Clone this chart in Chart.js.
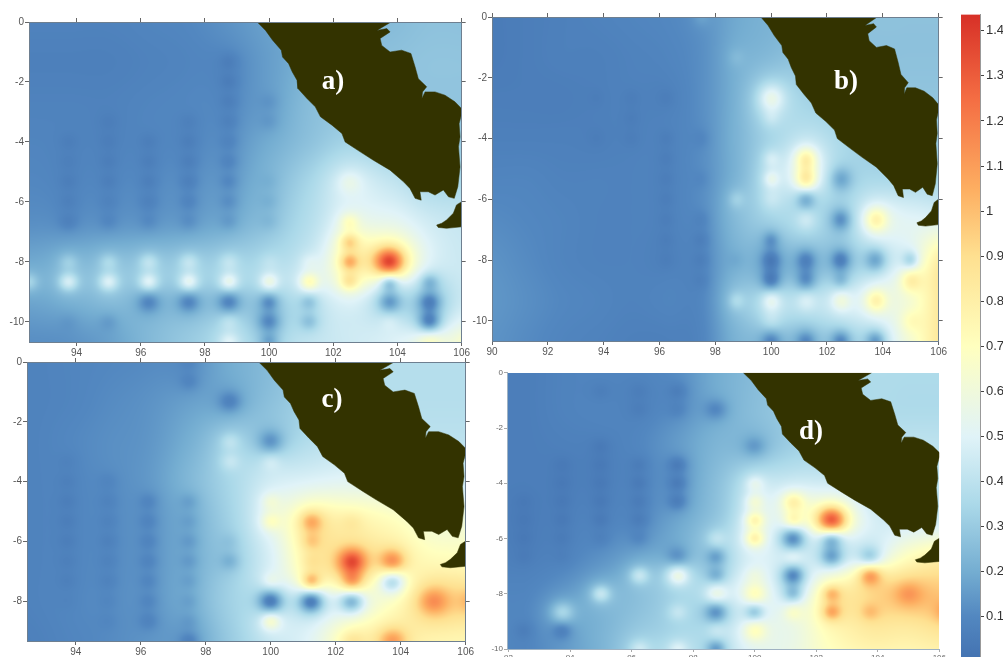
<!DOCTYPE html>
<html><head><meta charset="utf-8">
<script src="https://cdn.jsdelivr.net/npm/chart.js@4"></script>
<style>
html,body{margin:0;padding:0;background:#fff;width:1003px;height:657px;overflow:hidden}
canvas{position:absolute}
.tag{position:absolute;font:bold 27px "Liberation Serif",serif;color:#fff;line-height:30px;transform:translate(-50%,-50%)}
</style></head><body>
<script>
// ---------- DATA ----------
const lonNodes=[90,91.25,92.5,93.75,95,96.25,97.5,98.75,100,101.25,102.5,103.75,105,106.25];
const latNodes=[0,-1.333,-2.667,-4,-5.333,-6.667,-8,-9.333,-10.667];
const xTicksAC=[94,96,98,100,102,104,106];
const xTicksB=[90,92,94,96,98,100,102,104,106];
const xTicksD=[92,94,96,98,100,102,104,106];
const yTicksAB=[0,-2,-4,-6,-8,-10];
const yTicksC=[0,-2,-4,-6,-8];
const cbTicks=[0.1,0.2,0.3,0.4,0.5,0.6,0.7,0.8,0.9,1,1.1,1.2,1.3,1.4];

const baseA=[
[.08,.08,.08,.09,.10,.13,.17,.20,.24,.25,.27,.27],
[.07,.07,.07,.08,.09,.11,.16,.22,.26,.27,.28,.28],
[.08,.08,.08,.09,.10,.12,.17,.25,.28,.28,.28,.28],
[.09,.09,.09,.10,.11,.14,.20,.27,.33,.30,.30,.30],
[.10,.10,.11,.12,.14,.17,.24,.34,.45,.42,.35,.35],
[.12,.13,.14,.15,.17,.21,.28,.38,.50,.52,.45,.42],
[.18,.20,.23,.25,.27,.30,.34,.42,.62,.62,.48,.44],
[.17,.20,.24,.26,.28,.31,.34,.42,.48,.42,.42,.46],
[.12,.13,.17,.24,.30,.35,.38,.42,.45,.48,.55,.60]];
const spotsA=[
[93.75,-4,.05],[93.75,-4.667,.06],[93.75,-5.333,.05],[93.75,-6,.06],[93.75,-6.667,.05],
[95,-3.333,.05],[95,-4,.05],[95,-4.667,.05],[95,-5.333,.05],[95,-6,.07],[95,-6.667,.08],
[96.25,-4,.05],[96.25,-4.667,.05],[96.25,-5.333,.05],[96.25,-6,.06],[96.25,-6.667,.09],
[97.5,-3.333,.06],[97.5,-4,.05],[97.5,-4.667,.05],[97.5,-5.333,.05],[97.5,-6,.07],[97.5,-6.667,.10],
[98.75,-1.333,.04],[98.75,-2,.04],[98.75,-2.667,.05],[98.75,-3.333,.06],[98.75,-4,.07],[98.75,-4.667,.07],[98.75,-5.333,.08],[98.75,-6,.10],[98.75,-6.667,.13],
[100,-2.667,.12],[100,-3.333,.13],[100,-5.333,.20],[100,-6,.20],[100,-6.667,.22],
[93.75,-8,.30],[95,-8,.34],[96.25,-8,.39],[97.5,-8,.40],[98.75,-8,.40],[100,-8,.39],[101.25,-8,.49],
[92.5,-8.667,.34],[93.75,-8.667,.46],[95,-8.667,.48],[96.25,-8.667,.51],[97.5,-8.667,.54],[98.75,-8.667,.56],[100,-8.667,.58],[101.25,-8.667,.72],[102.5,-8.667,.82],
[102.5,-7.333,.88],[102.5,-8,.98],[102.5,-6.667,.68],[102.5,-5.333,.55,1.3],
[103.75,-8,1.40,1.6],[103.75,-8.667,.18],[103.75,-9.333,.15,1.2],[105,-8.667,.25],[105,-9.333,.12,1.2],[105,-10,.10,1.2],[105,-10.667,.72,1.3],[106.25,-10.667,.72],
[96.25,-9.333,.08,1.2],[97.5,-9.333,.08,1.2],[98.75,-9.333,.07,1.2],[100,-9.333,.13],[101.25,-9.333,.27],
[93.75,-10,.13],[95,-10,.13],[98.75,-10,.42],[100,-10,.13,1.2],[101.25,-10,.28],[102.5,-10,.45],[103.75,-10,.50],
[98.75,-10.667,.50],[100,-10.667,.20]];

const baseB=[
[.05,.06,.07,.08,.09,.10,.12,.19,.22,.24,.26,.27,.27,.27],
[.05,.06,.07,.07,.08,.09,.12,.20,.24,.28,.28,.27,.27,.27],
[.06,.06,.06,.07,.08,.08,.12,.21,.30,.32,.30,.28,.28,.28],
[.07,.07,.07,.07,.08,.09,.12,.22,.32,.38,.35,.30,.30,.30],
[.09,.09,.08,.08,.08,.09,.12,.22,.35,.42,.38,.35,.35,.35],
[.11,.10,.09,.08,.08,.09,.12,.24,.33,.36,.36,.45,.50,.50],
[.13,.11,.09,.08,.08,.08,.11,.22,.28,.30,.34,.44,.55,.85],
[.14,.12,.10,.09,.08,.09,.10,.25,.35,.38,.42,.48,.58,.88],
[.13,.11,.09,.08,.07,.07,.09,.22,.28,.30,.38,.45,.62,.88]];
const spotsB=[
[100,-2.667,.55,1.6],[100,-3.333,.38],[100,-4.667,.45],[100,-5.333,.52],[100,-6,.42,1.2],
[101.25,-4.667,.75,1.3],[101.25,-5.333,.80,1.3],[101.25,-6,.15,1.2],[101.25,-6.667,.47,1.2],
[102.5,-5.333,.18,1.3],[102.5,-6.667,.12,1.2],[103.75,-6.667,.78,1.4],
[100,-7.333,.15],[100,-8,.08,1.2],[100,-8.667,.06,1.2],[100,-9.333,.55,1.2],[100,-10,.40,1.2],[100,-10.667,.08,1.2],
[101.25,-8,.10,1.2],[101.25,-8.667,.13,1.2],[101.25,-9.333,.50,1.2],[101.25,-10.667,.10,1.2],
[102.5,-8,.08,1.2],[102.5,-8.667,.25],[102.5,-9.333,.60,1.2],[102.5,-10.667,.10,1.2],
[103.75,-8,.18,1.3],[103.75,-9.333,.78,1.3],[103.75,-10.667,.15,1.2],
[105,-8,.32],[105,-8.667,.82,1.3],[105,-10,.72,1.3],
[98.75,-9.333,.36],[98.75,-8,.18],[98.75,-6,.32],[98.75,-1.333,.24],
[97.5,-7.333,.05],[97.5,-8,.05],[97.5,-8.667,.06],[97.5,-6.667,.07],[97.5,-4,.08],[97.5,-5.333,.09],[97.5,0,.17],
[96.25,-6.667,.05],[96.25,-7.333,.05],[96.25,-8,.05],[96.25,-6,.05],[96.25,-5.333,.05],[96.25,-4.667,.05],[96.25,-4,.05],[96.25,-2.667,.05],
[95,-2.667,.05],[95,-3.333,.05],[95,-4,.05],[93.75,-2.667,.05],[93.75,-4,.05]];

const baseC=[
[.08,.09,.10,.11,.13,.20,.25,.32,.38,.38,.38,.38],
[.08,.09,.11,.13,.17,.22,.27,.33,.38,.38,.38,.38],
[.08,.10,.12,.14,.21,.30,.34,.38,.42,.40,.40,.40],
[.08,.10,.12,.15,.24,.34,.45,.50,.52,.50,.45,.45],
[.08,.10,.12,.15,.22,.33,.50,.74,.74,.70,.60,.60],
[.08,.10,.12,.15,.22,.32,.48,.74,.74,.72,.72,.72],
[.08,.10,.12,.15,.22,.33,.48,.56,.62,.72,.85,.85],
[.07,.09,.11,.14,.18,.30,.42,.52,.72,.72,.75,.75]];
const spotsC=[
[97.5,0,.08],[97.5,-.667,.07],[98.75,-1.333,.08,1.2],[100,-2.667,.13,1.3],[98.75,-2.667,.40],[98.75,-3.333,.42],[100,-3.333,.48],
[100,-4.667,.60],[100,-5.333,.68],[100,-7.333,.60],[100,-8,.04,1.3],[100,-8.667,.70],[101.25,-8,.05,1.3],[102.5,-8,.20,1.3],[103.75,-7.333,.30,1.4],
[101.25,-5.333,1.05,1.2],[101.25,-6,.92],[101.25,-6.667,.82],[101.25,-7.333,1.05],[102.5,-5.333,.82,1.2],[102.5,-6.667,1.32,1.5],[102.5,-7.333,1.05,1.2],
[103.75,-6.667,1.18,1.4],[105,-8,1.15,1.6],[106.25,-8,1.05,1.4],[103.75,-9.333,1.10,1.5],[102.5,-9.333,.85,1.3],
[93.75,-3.333,.07],[93.75,-4,.06],[93.75,-4.667,.05],[93.75,-5.333,.05],[93.75,-6,.05],[93.75,-6.667,.06],[93.75,-7.333,.06],[93.75,-8,.08],
[95,-4,.08],[95,-4.667,.07],[95,-5.333,.07],[95,-6,.06],[95,-6.667,.07],[95,-7.333,.07],[95,-8,.09],[95,-8.667,.09],
[96.25,-4.667,.07],[96.25,-5.333,.07],[96.25,-6,.07],[96.25,-6.667,.07],[96.25,-7.333,.08],[96.25,-8,.08],[96.25,-8.667,.06],
[97.5,-4.667,.14],[97.5,-5.333,.15],[97.5,-6,.13],[97.5,-6.667,.13],[97.5,-7.333,.15],[97.5,-8,.15],[97.5,-8.667,.14],[97.5,-9.333,.08],
[98.75,-6,.26],[98.75,-6.667,.22]];

const baseD=[
[.06,.08,.09,.09,.12,.20,.25,.30,.32,.36,.36,.36],
[.06,.08,.09,.09,.13,.22,.26,.30,.33,.36,.36,.36],
[.06,.07,.08,.10,.16,.23,.27,.32,.35,.38,.40,.40],
[.06,.07,.08,.11,.17,.26,.38,.42,.42,.40,.40,.40],
[.06,.08,.10,.12,.19,.28,.42,.50,.50,.45,.45,.45],
[.07,.09,.13,.18,.24,.34,.47,.52,.52,.52,.70,.80],
[.09,.13,.19,.25,.30,.38,.50,.52,.72,.85,.95,.95],
[.10,.16,.22,.29,.33,.40,.50,.55,.72,.82,.82,.85],
[.08,.14,.22,.33,.38,.42,.50,.58,.68,.72,.72,.75]];
const spotsD=[
[101.25,-4.667,.75,1.2],[101.25,-5.333,.72],[102.5,-5.333,1.35,1.6],[101.25,-6,.08,1.3],[102.5,-6,.12,1.2],[102.5,-6.667,.20,1.2],[103.75,-6.667,.28,1.2],
[101.25,-6.667,.62],[101.25,-7.333,.12,1.2],[101.25,-8,.30],[101.25,-8.667,.68],[103.75,-7.333,1.12,1.2],[102.5,-8,1.00],[102.5,-8.667,1.05],[103.75,-8.667,1.00],[105,-8,1.12,1.4],[106.25,-8.667,1.10,1.3],
[100,-4,.52],[100,-4.667,.58],[100,-5.333,.72],[100,-6,.76],[100,-7.333,.56],[100,-8,.72,1.2],[100,-8.667,.25],[100,-9.333,.72,1.2],
[98.75,-1.333,.10,1.2],[100,-2.667,.15,1.2],[98.75,-6,.42],[98.75,-6.667,.17],[98.75,-7.333,.20],[98.75,-8,.60,1.2],[98.75,-8.667,.10,1.2],[98.75,-9.333,.48],[98.75,-10,.15],
[97.5,-6.667,.10,1.2],[97.5,-7.333,.58,1.2],[97.5,-8.667,.42],[97.5,-10,.50],[96.25,-7.333,.42],[96.25,-10,.45],[95,-8,.42],[93.75,-8.667,.35,1.2],[92.5,-9.333,.04],[93.75,-9.333,.05],
[97.5,-.667,.04],[97.5,-1.333,.07],[97.5,-3.333,.06],[97.5,-4,.07],[97.5,-4.667,.07],
[96.25,-.667,.05],[96.25,-1.333,.05],[96.25,-3.333,.04],[96.25,-4,.03],[96.25,-4.667,.04],[96.25,-5.333,.04],[96.25,-6,.08],
[95,-.667,.05],[95,-2.667,.03],[95,-3.333,.03],[95,-4,.03],[95,-4.667,.03],[95,-5.333,.03],[95,-6,.06],
[93.75,-3.333,.03],[93.75,-4,.03],[93.75,-4.667,.03],[93.75,-5.333,.03],[93.75,-6,.04],[93.75,-6.667,.06],
[92.5,-4.667,.03],[92.5,-5.333,.03],[92.5,-6,.03],[92.5,-6.667,.04]];

const sumatra=[[99.63,0],[99.89,-.28],[100.11,-.61],[100.38,-.94],[100.42,-1.17],[100.61,-1.39],[100.72,-1.66],[100.87,-1.94],[100.9,-2.22],[101.18,-2.55],[101.44,-2.83],[101.6,-3.16],[101.96,-3.44],[102.27,-3.72],[102.37,-4],[102.84,-4.33],[103.25,-4.61],[103.77,-4.94],[104.19,-5.33],[104.39,-5.55],[104.55,-5.88],[104.74,-5.94],[104.7,-5.66],[104.96,-5.66],[105.17,-5.77],[105.43,-5.6],[105.59,-5.83],[105.77,-5.88],[105.88,-5.49],[105.95,-4.83],[105.9,-4.16],[105.95,-3.83],[105.92,-3.39],[106,-3.05],[106,-2.89],[105.79,-2.66],[105.48,-2.44],[105.17,-2.33],[104.86,-2.33],[104.76,-2.55],[104.78,-2.33],[104.91,-2.16],[104.65,-1.89],[104.55,-1.5],[104.42,-1.05],[104.13,-.94],[103.77,-1],[103.51,-.78],[103.46,-.55],[103.77,-.33],[103.67,-.22],[103.36,-.28],[103.8,0]];
const java=[[106,-5.99],[105.84,-6.1],[105.74,-6.38],[105.53,-6.6],[105.38,-6.71],[105.22,-6.77],[105.27,-6.85],[105.53,-6.88],[106,-6.83]];

const colorStops=[[0.011,[68,115,178]],[0.1,[82,135,192]],[0.2,[116,173,209]],[0.35,[171,217,233]],[0.5,[224,243,248]],[0.7,[255,255,191]],[0.9,[254,224,144]],[1.05,[253,174,97]],[1.25,[244,109,67]],[1.436,[215,48,39]]];
const landColor='#333300';

// ---------- RENDERING ----------
function colorOf(v){
  const s=colorStops;
  if(v<=s[0][0])return s[0][1];
  for(let i=1;i<s.length;i++){
    if(v<=s[i][0]){const t=(v-s[i-1][0])/(s[i][0]-s[i-1][0]);
      return s[i-1][1].map((c,k)=>c+(s[i][1][k]-c)*t);}
  }
  return s[s.length-1][1];
}
function cr(a,b,c,d,t){return .5*(2*b+(c-a)*t+(2*a-5*b+4*c-d)*t*t+(3*b-a-3*c+d)*t*t*t);}
function baseAt(base,lons,lon,lat){
  const fx=Math.max(0,Math.min(base[0].length-1,(lon-lons[0])/1.25));
  const fy=Math.max(0,Math.min(base.length-1,-lat/(4/3)));
  const ix=Math.floor(fx),iy=Math.floor(fy),tx=fx-ix,ty=fy-iy;
  const R=j=>base[Math.max(0,Math.min(base.length-1,j))];
  const row=j=>{const r=R(j),g=i=>r[Math.max(0,Math.min(r.length-1,i))];
    return cr(g(ix-1),g(ix),g(ix+1),g(ix+2),tx);};
  return cr(row(iy-1),row(iy),row(iy+1),row(iy+2),ty);
}
const heatPlugin={id:'heat',beforeDatasetsDraw(chart){
  const c=chart.options.plugins.heat, a=chart.chartArea, sx=chart.scales.x, sy=chart.scales.y, ctx=chart.ctx;
  const L=Math.round(a.left),T=Math.round(a.top),W=Math.round(a.right)-L,H=Math.round(a.bottom)-T;
  const sig=c.sigma||0.2;
  const spots=chart.data.datasets[0].data.map(p=>{
    let d=p.v-baseAt(c.base,c.lons,p.x,p.y);
    if(d<0&&d>-.1)d*=.68;
    const w=sig*(p.w||1);
    return {x:p.x,y:p.y,d,w};
  });
  const img=ctx.createImageData(W,H);
  for(let j=0;j<H;j++){
    const lat=sy.getValueForPixel(T+j+.5);
    for(let i=0;i<W;i++){
      const lon=sx.getValueForPixel(L+i+.5);
      let v=baseAt(c.base,c.lons,lon,lat);
      for(const s of spots){
        const dx=(lon-s.x)/s.w,dy=(lat-s.y)/s.w,r=dx*dx+dy*dy;
        if(r<40)v+=s.d*(.72*Math.exp(-r/2)+.28*Math.exp(-r/8));
      }
      const col=colorOf(v),o=(j*W+i)*4;
      img.data[o]=col[0];img.data[o+1]=col[1];img.data[o+2]=col[2];img.data[o+3]=255;
    }
  }
  ctx.putImageData(img,L,T);
  ctx.save();ctx.beginPath();ctx.rect(a.left,a.top,a.right-a.left,a.bottom-a.top);ctx.clip();
  ctx.fillStyle=landColor;
  [1,2].forEach(k=>{
    const m=chart.getDatasetMeta(k).data;ctx.beginPath();
    m.forEach((p,i)=>i?ctx.lineTo(p.x,p.y):ctx.moveTo(p.x,p.y));
    ctx.closePath();ctx.fill();
  });
  ctx.restore();
}};

function tickScale(axis,pos,min,max,ticks,size,o){
  return {type:'linear',axis,position:pos,min,max,
    afterBuildTicks:s=>{s.ticks=ticks.map(v=>({value:v}));},
    afterFit:s=>{if(axis==='x')s.height=size;else s.width=size;},
    ticks:{display:!!o.labels,autoSkip:false,maxRotation:0,color:o.textColor,padding:o.pad,
      font:{family:'"Liberation Sans",Arial,sans-serif',size:o.fontSize},callback:v=>String(v)},
    grid:{drawOnChartArea:false,drawTicks:true,tickLength:o.tick,color:o.tickColor,z:1},
    border:{display:true,color:o.borderColor,z:1}};
}
function panel(p){
  const M={l:30,r:8,t:7,b:18};
  const cv=document.createElement('canvas');
  cv.width=p.right-p.left+M.l+M.r;cv.height=p.bottom-p.top+M.t+M.b;
  cv.style.left=(p.left-M.l)+'px';cv.style.top=(p.top-M.t)+'px';
  if(p.blur)cv.style.filter='blur('+p.blur+'px)';
  document.body.appendChild(cv);
  const st={labels:true,textColor:p.textColor||'#555',pad:p.pad??1,fontSize:p.fontSize||10,tick:p.tick||4,tickColor:p.tickColor||'#666',borderColor:p.borderColor||'#6e7f90'};
  const scales={
    x:tickScale('x','bottom',p.xMin,106,p.xTicks,M.b,st),
    y:tickScale('y','left',p.yMin,0,p.yTicks,M.l,st)};
  if(p.frame){
    scales.x2=tickScale('x','top',p.xMin,106,p.xTicks,M.t,{...st,labels:false});
    scales.y2=tickScale('y','right',p.yMin,0,p.yTicks,M.r,{...st,labels:false});
  }
  new Chart(cv,{type:'scatter',plugins:[heatPlugin],
    data:{datasets:[
      {label:'stations',data:p.spots.map(s=>({x:s[0],y:s[1],v:s[2],w:s[3]})),pointRadius:0,showLine:false},
      {label:'Sumatra',data:sumatra.map(s=>({x:s[0],y:s[1]})),pointRadius:0,showLine:true,borderColor:landColor,borderWidth:.5},
      {label:'Java',data:java.map(s=>({x:s[0],y:s[1]})),pointRadius:0,showLine:true,borderColor:landColor,borderWidth:.5}]},
    options:{responsive:false,animation:false,events:[],layout:{padding:0,autoPadding:false},
      plugins:{legend:{display:false},tooltip:{enabled:false},title:{display:false},
        heat:{base:p.base,lons:p.lons,sigma:p.sigma}},scales}});
  const t=document.createElement('div');t.className='tag';t.textContent=p.tag;
  t.style.left=p.tagX+'px';t.style.top=p.tagY+'px';t.style.zIndex=5;document.body.appendChild(t);
}
const lons12=lonNodes.slice(2);
panel({left:29,right:463,top:22,bottom:342,xMin:92.52,yMin:-10.67,xTicks:xTicksAC,yTicks:yTicksAB,base:baseA,spots:spotsA,lons:lons12,frame:true,tag:'a)',tagX:333,tagY:80});
panel({left:492,right:940,top:17,bottom:341,xMin:90,yMin:-10.66,xTicks:xTicksB,yTicks:yTicksAB,base:baseB,spots:spotsB,lons:lonNodes,frame:true,tag:'b)',tagX:846,tagY:80});
panel({left:27,right:467,top:362,bottom:641,xMin:92.5,yMin:-9.33,xTicks:xTicksAC,yTicks:yTicksC,base:baseC,spots:spotsC,lons:lons12,frame:true,tag:'c)',tagX:332,tagY:398});
panel({left:507,right:939,top:374,bottom:649,xMin:91.95,yMin:-10,xTicks:xTicksD,yTicks:yTicksAB,base:baseD,spots:spotsD,lons:lons12,frame:false,tag:'d)',tagX:811,tagY:430,fontSize:8,textColor:'#666',tickColor:'#aaa',borderColor:'#9fb2c2',tick:3,sigma:.21,blur:.6});

// ---------- COLOUR BAR ----------
(function(){
  const top=14.6,left=961,right=980,mr=23;
  const lo=colorStops[0][0],hi=colorStops[colorStops.length-1][0];
  const cv=document.createElement('canvas');
  cv.width=right-left+mr;cv.height=657;
  cv.style.left=left+'px';cv.style.top='0px';document.body.appendChild(cv);
  new Chart(cv,{type:'bar',
    data:{labels:['v'],datasets:[{data:[[lo,hi]],barPercentage:1,categoryPercentage:1,borderWidth:0,
      backgroundColor(ctx){
        const c=ctx.chart;if(!c.chartArea)return '#888';
        const s=c.scales.y,g=c.ctx.createLinearGradient(0,s.getPixelForValue(lo),0,s.getPixelForValue(hi));
        colorStops.forEach(st=>g.addColorStop((st[0]-lo)/(hi-lo),'rgb('+st[1].join(',')+')'));
        return g;}}]},
    options:{responsive:false,animation:false,events:[],layout:{padding:{top:top,bottom:0},autoPadding:false},
      plugins:{legend:{display:false},tooltip:{enabled:false}},
      scales:{
        x:{display:false,offset:true},
        y:{type:'linear',position:'right',min:lo,max:hi,
          afterBuildTicks:s=>{s.ticks=cbTicks.map(v=>({value:v}));},
          afterFit:s=>{s.width=mr;s.paddingTop=0;s.paddingBottom=0;},
          ticks:{autoSkip:false,color:'#333',padding:2,
            font:{family:'"Liberation Sans Narrow","Liberation Sans",Arial,sans-serif',size:13},callback:v=>String(v)},
          grid:{drawOnChartArea:false,drawTicks:true,tickLength:4,color:'#444'},
          border:{display:true,color:'#999'}}}}});
})();
</script>
</body></html>
